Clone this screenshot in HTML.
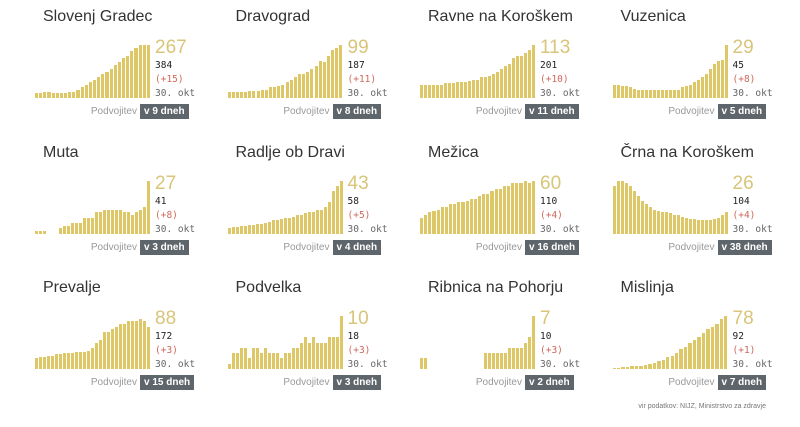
<!DOCTYPE html>
<html><head><meta charset="utf-8">
<style>
body{margin:0;width:800px;height:427px;background:#fff;position:relative;font-family:"Liberation Sans",sans-serif;overflow:hidden}
.c{position:absolute;width:192px;height:135px}
.t{position:absolute;left:43px;top:8px;font-size:16px;color:#333;white-space:nowrap}
.ch{position:absolute;left:35px;top:45px;width:116px;height:53px}
.b{position:absolute;bottom:0;background:#ddc766}
.big{position:absolute;left:155px;top:37px;font-size:19px;color:#d8c57a;white-space:nowrap}
.n{position:absolute;left:155px;font-size:9.5px;white-space:nowrap;font-family:"DejaVu Sans Mono","Liberation Mono",monospace}
.pv{position:absolute;right:55px;top:106px;font-size:10px;color:#999;white-space:nowrap}
.bd{position:absolute;left:140px;top:104px;height:15px;padding:0 4px;background:#5e656b;color:#fff;font-weight:bold;font-size:10px;line-height:15px;white-space:nowrap}
.src{position:absolute;right:34px;top:403px;font-size:7px;color:#777;white-space:nowrap}
</style></head><body>
<div id="root"></div>
<div class="src">vir podatkov: NIJZ, Ministrstvo za zdravje</div>
<script>
var D=[
["Slovenj Gradec","267","384","(+15)","v 9 dneh",[.1,.1,.12,.12,.1,.1,.1,.1,.12,.12,.15,.2,.25,.3,.35,.4,.45,.5,.55,.62,.68,.75,.8,.88,.95,1,1,1]],
["Dravograd","99","187","(+11)","v 8 dneh",[.12,.12,.12,.12,.12,.14,.14,.14,.16,.16,.2,.2,.22,.25,.3,.35,.4,.45,.45,.5,.55,.6,.7,.68,.8,.9,.95,1]],
["Ravne na Koroškem","113","201","(+10)","v 11 dneh",[.25,.25,.25,.25,.25,.25,.28,.28,.28,.3,.3,.3,.32,.35,.35,.4,.4,.42,.45,.5,.55,.6,.65,.75,.8,.8,.85,.9,1]],
["Vuzenica","29","45","(+8)","v 5 dneh",[.25,.25,.22,.22,.2,.18,.15,.15,.15,.15,.15,.15,.15,.15,.15,.15,.15,.2,.22,.25,.3,.35,.4,.45,.55,.65,.7,.72,1]],
["Muta","27","41","(+8)","v 3 dneh",[.05,.05,.05,0,0,0,.1,.15,.15,.2,.2,.2,.3,.3,.3,.4,.4,.45,.45,.45,.45,.45,.4,.4,.35,.4,.45,.5,1]],
["Radlje ob Dravi","43","58","(+5)","v 4 dneh",[.1,.12,.12,.14,.14,.16,.16,.18,.18,.2,.22,.25,.25,.28,.3,.3,.32,.35,.35,.38,.4,.4,.45,.45,.5,.6,.8,.9,1]],
["Mežica","60","110","(+4)","v 16 dneh",[.3,.35,.4,.42,.45,.5,.5,.55,.55,.6,.6,.62,.65,.65,.7,.75,.75,.8,.85,.85,.9,.9,.95,.95,.95,1,.95,1]],
["Črna na Koroškem","26","104","(+4)","v 38 dneh",[.9,1,1,.95,.9,.8,.7,.62,.55,.5,.45,.42,.4,.4,.38,.35,.35,.32,.3,.28,.28,.25,.25,.25,.25,.28,.3,.35,.4]],
["Prevalje","88","172","(+3)","v 15 dneh",[.2,.22,.22,.25,.25,.28,.28,.3,.3,.3,.32,.32,.32,.35,.4,.5,.55,.7,.7,.75,.8,.85,.85,.9,.9,.9,.95,.9,.8]],
["Podvelka","10","18","(+3)","v 3 dneh",[.1,.3,.3,.4,.4,.2,.4,.4,.3,.4,.3,.3,.3,.2,.3,.3,.4,.4,.5,.6,.5,.6,.5,.5,.5,.6,.6,.6,1]],
["Ribnica na Pohorju","7","10","(+3)","v 2 dneh",[.2,.2,0,0,0,0,0,0,0,0,0,0,0,0,0,0,.3,.3,.3,.3,.3,.3,.4,.4,.4,.4,.5,.6,1]],
["Mislinja","78","92","(+1)","v 7 dneh",[.02,.02,.03,.04,.05,.05,.06,.08,.1,.12,.15,.18,.22,.25,.3,.38,.42,.5,.55,.6,.68,.75,.8,.85,.95,1]]
];
var h="";
D.forEach(function(d,i){
 var x=(i%4)*192.5, y=Math.floor(i/4)*135.5;
 var n=d[5].length, w=116/n, bars="";
 d[5].forEach(function(v,j){ if(v>0) bars+='<div class="b" style="left:'+(j*w).toFixed(2)+'px;width:'+(w-1).toFixed(2)+'px;height:'+Math.max(1,v*53).toFixed(1)+'px"></div>';});
 h+='<div class="c" style="left:'+x+'px;top:'+y+'px"><div class="t">'+d[0]+'</div><div class="ch">'+bars+'</div>'+
 '<div class="big">'+d[1]+'</div><div class="n" style="top:60px;color:#222">'+d[2]+'</div><div class="n" style="top:74px;color:#d0675a">'+d[3]+'</div><div class="n" style="top:88px;color:#666">30. okt</div>'+
 '<div class="pv">Podvojitev</div><div class="bd">'+d[4]+'</div></div>';
});
document.getElementById("root").innerHTML=h;
</script>
</body></html>
